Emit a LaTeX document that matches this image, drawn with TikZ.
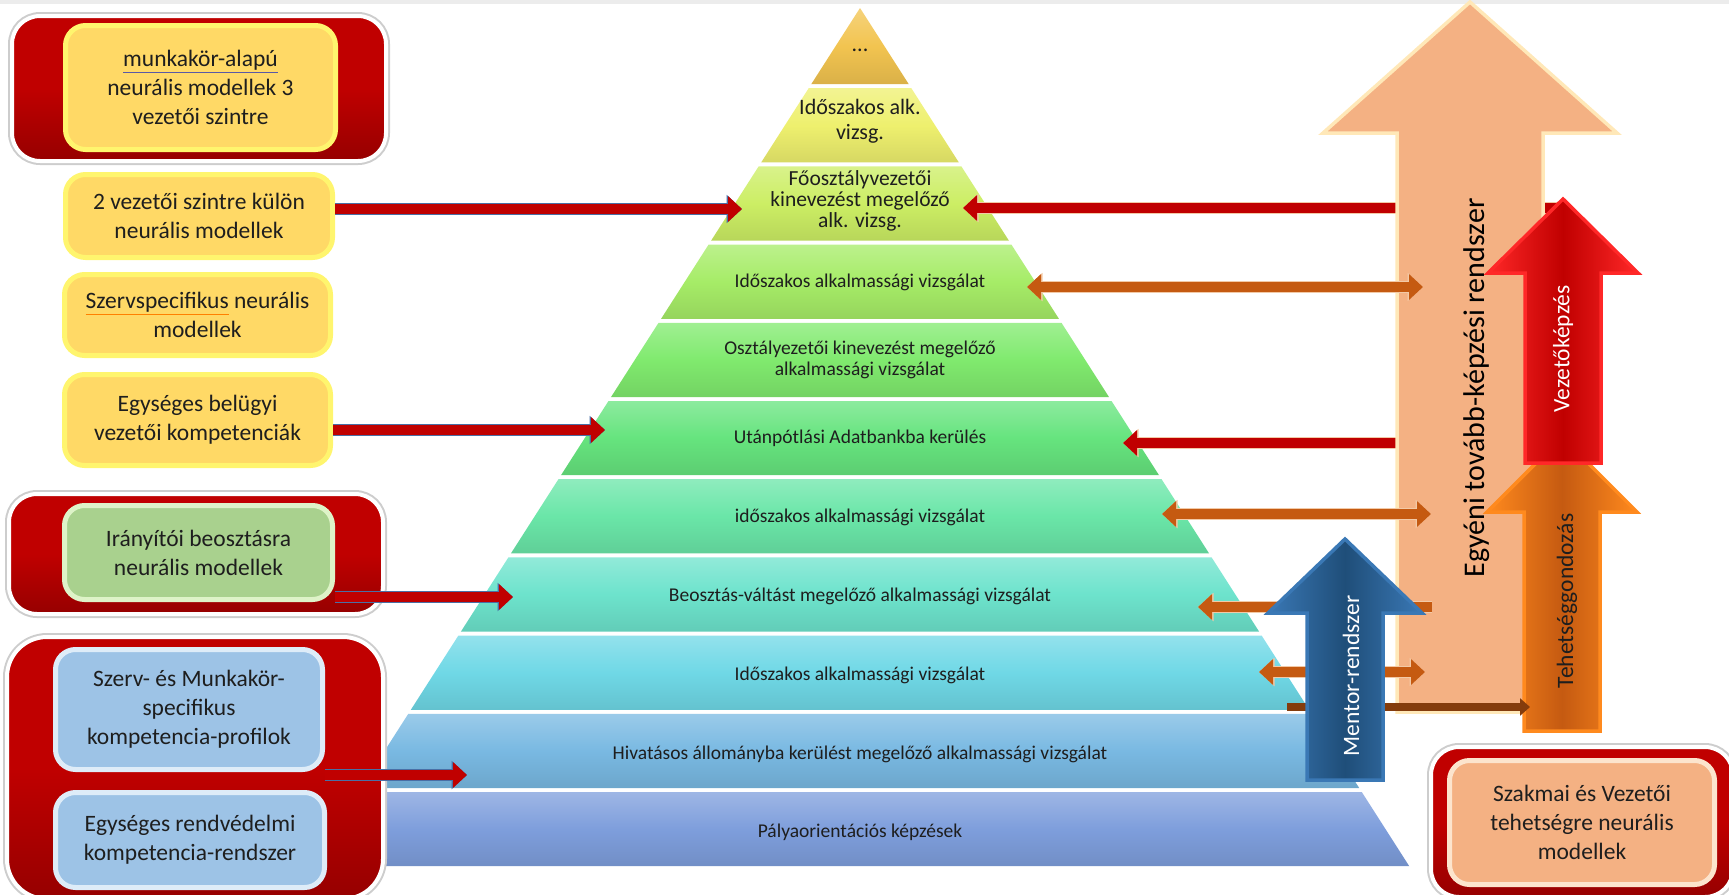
\documentclass[tikz,border=0pt]{standalone}
\usepackage{fontspec}
\setmainfont{Carlito}
\usepackage{xcolor}
\usepackage{tikz}
\usetikzlibrary{positioning, calc, arrows.meta}
\definecolor{ink}{RGB}{30, 30, 30}
\definecolor{topGray}{RGB}{236, 236, 236}
\definecolor{panelRed}{RGB}{192, 0, 0}
\definecolor{panelDark}{RGB}{150, 0, 0}
\definecolor{panelGlow}{RGB}{205, 205, 205}
\definecolor{cardYellow}{RGB}{255, 217, 102}
\definecolor{rimYellow}{RGB}{255, 245, 110}
\definecolor{cardGreen}{RGB}{169, 209, 142}
\definecolor{rimGreen}{RGB}{222, 243, 200}
\definecolor{cardBlue}{RGB}{157, 195, 230}
\definecolor{rimPale}{RGB}{222, 236, 248}
\definecolor{cardPeach}{RGB}{244, 177, 131}
\definecolor{rimPeach}{RGB}{252, 228, 205}
\definecolor{arrowRed}{RGB}{192, 0, 0}
\definecolor{edgeBlue}{RGB}{74, 111, 165}
\definecolor{edgeTan}{RGB}{242, 201, 166}
\definecolor{arrowOrange}{RGB}{197, 90, 17}
\definecolor{arrowBrown}{RGB}{132, 60, 12}
\definecolor{bigPeach}{RGB}{244, 177, 131}
\definecolor{bigPeachRim}{RGB}{255, 232, 184}
\definecolor{vezRim}{RGB}{255, 40, 40}
\definecolor{tehRim}{RGB}{255, 138, 30}
\definecolor{menBlue}{RGB}{31, 78, 121}
\definecolor{menRim}{RGB}{58, 120, 181}
\definecolor{lay1}{RGB}{242, 196, 80}
\definecolor{lay2}{RGB}{238, 240, 110}
\definecolor{lay3}{RGB}{204, 238, 100}
\definecolor{lay4}{RGB}{166, 236, 103}
\definecolor{lay5}{RGB}{128, 234, 110}
\definecolor{lay6}{RGB}{102, 228, 126}
\definecolor{lay7}{RGB}{106, 230, 168}
\definecolor{lay8}{RGB}{109, 227, 204}
\definecolor{lay9}{RGB}{111, 216, 230}
\definecolor{lay10}{RGB}{121, 185, 226}
\definecolor{lay11}{RGB}{126, 158, 220}
\newcommand{\markword}[2]{\textcolor{#1}{\underline{\textcolor{ink}{#2}}}}
\tikzset{
    base/.style={
        font=\fontsize{19.5}{20.5}\selectfont,
        align=center,
        text=ink
    },
    tiertop/.style={
        base,
        font=\fontsize{21.5}{21}\selectfont
    },
    panel/.style={
        rectangle,
        rounded corners=28pt,
        top color=panelRed,
        bottom color=panelDark,
        middle color=panelRed,
        draw=white,
        line width=4pt,
        preaction={draw=panelGlow, line width=8pt}
    },
    card/.style={
        base,
        font=\fontsize{23.5}{29}\selectfont,
        rectangle,
        rounded corners=20pt,
        line width=5pt,
        inner sep=0pt
    },
    cardyellow/.style={card, fill=cardYellow, draw=rimYellow},
    cardgreen/.style={card, fill=cardGreen, draw=rimGreen},
    cardblue/.style={card, fill=cardBlue, draw=rimPale},
    cardpeach/.style={card, fill=cardPeach, draw=rimPeach},
    bighead/.tip={Triangle[length=14pt, width=25pt]},
    rimhead/.tip={Triangle[length=15.5pt, width=27.5pt]},
    redflow/.style={
        line width=10pt,
        draw=arrowRed,
        arrows={-bighead},
        preaction={draw=#1, line width=11.6pt, arrows={-rimhead}}
    },
    redflow/.default=edgeBlue,
    twoway/.style={
        line width=10pt,
        draw=arrowOrange,
        arrows={bighead-bighead},
        preaction={draw=edgeTan, line width=11.6pt, arrows={rimhead-rimhead}}
    },
    oneway/.style={
        line width=10pt,
        draw=arrowOrange,
        arrows={-bighead},
        preaction={draw=edgeTan, line width=11.6pt, arrows={-rimhead}}
    },
    thinflow/.style={
        line width=8pt,
        draw=arrowBrown,
        arrows={-Triangle[length=10pt, width=17pt]}
    },
    blockarrow/.style={
        line width=3.5pt,
        line join=miter
    },
    uptext/.style={
        font=\fontsize{23.5}{26}\selectfont,
        rotate=90
    }
}

\begin{document}
\begin{tikzpicture}[x=1pt, y=-1pt]
  \useasboundingbox (0,0) rectangle (1729,894);
  \fill[topGray] (0,0) rectangle (1729,4);

  % Pyramid
  \foreach \col [count=\k from 0] in {lay1,lay2,lay3,lay4,lay5,lay6,lay7,lay8,lay9,lay10,lay11}{
    \pgfmathsetmacro\yt{8+\k*78.2+(\k>0)*2}
    \pgfmathsetmacro\yb{8+(\k+1)*78.2-2}
    \pgfmathsetmacro\wt{(\yt-8)*0.64}
    \pgfmathsetmacro\wb{(\yb-8)*0.64}
    \shade[top color=\col!75!white, bottom color=\col!90!black, middle color=\col]
      (860-\wt,\yt) -- (860+\wt,\yt) -- (860+\wb,\yb) -- (860-\wb,\yb) -- cycle;
  }
  \node[tiertop, font=\fontsize{22}{25}\selectfont] (l1) at (860,50) {...};
  \node[tiertop, font=\fontsize{22}{25}\selectfont] (l2) at (860,121) {Időszakos alk.\\vizsg.};
  \node[tiertop] (l3) at (860,201) {Főosztályvezetői\\kinevezést megelőző\\alk. vizsg.};
  \node[base] (l4) at (860,282) {Időszakos alkalmassági vizsgálat};
  \node[base] (l5) at (860,360) {Osztályezetői kinevezést megelőző\\alkalmassági vizsgálat};
  \node[base] (l6) at (860,438) {Utánpótlási Adatbankba kerülés};
  \node[base] (l7) at (860,517) {időszakos alkalmassági vizsgálat};
  \node[base] (l8) at (860,596) {Beosztás-váltást megelőző alkalmassági vizsgálat};
  \node[base] (l9) at (860,675) {Időszakos alkalmassági vizsgálat};
  \node[base] (l10) at (860,754) {Hivatásos állományba kerülést megelőző alkalmassági vizsgálat};
  \node[base] (l11) at (860,832) {Pályaorientációs képzések};

  % Left panels
  \node[panel, minimum width=374pt, minimum height=145pt] (p1) at (199,88.5) {};
  \node[panel, minimum width=374pt, minimum height=120pt] (p2) at (196,554) {};
  \node[panel, rounded corners=40pt, minimum width=376pt, minimum height=262pt] (p3) at (195,768) {};

  \node[cardyellow, minimum width=270pt, minimum height=124pt] (c1) at (200.5,87.5)
    {\markword{gray!70!blue}{munkakör-alapú}\\neurális modellek 3\\vezetői szintre};
  \node[cardyellow, minimum width=267pt, minimum height=83pt] (c2) at (199,216)
    {2 vezetői szintre külön\\neurális modellek};
  \node[cardyellow, minimum width=266pt, minimum height=81pt] (c3) at (197.5,315)
    {\markword{orange}{Szervspecifikus} neurális\\modellek};
  \node[cardyellow, minimum width=266pt, minimum height=91pt] (c4) at (197.5,420)
    {Egységes belügyi\\vezetői kompetenciák};
  \node[cardgreen, minimum width=268pt, minimum height=94pt] (c5) at (198.5,552.5)
    {Irányítói beosztásra\\neurális modellek};
  \node[cardblue, minimum width=267pt, minimum height=120pt] (c6) at (189,709.5)
    {Szerv- és Munkakör-\\specifikus\\kompetencia-profilok};
  \node[cardblue, minimum width=269pt, minimum height=95pt] (c7) at (190,840)
    {Egységes rendvédelmi\\kompetencia-rendszer};

  % Arrow ends
  \coordinate (t3w) at (742,209);
  \coordinate (t6w) at (605,430);
  \coordinate (t8w) at (513,597);
  \coordinate (t10w) at (467,775);
  \coordinate (t3e) at (963,208);
  \coordinate (t4e) at (1027,287);
  \coordinate (t6e) at (1123,443);
  \coordinate (t7e) at (1162,514);
  \coordinate (t8e) at (1198,607);
  \coordinate (t9e) at (1259,672);
  \coordinate (t10e) at (1287,707);
  \coordinate (g4) at (1423,287);
  \coordinate (g7) at (1431,514);
  \coordinate (g8) at (1432,607);
  \coordinate (g9) at (1425,672);
  \coordinate (h10) at (1530,707);
  \coordinate (vezaxis) at (1558,0);

  % From the leadership training
  \draw[redflow=edgeTan] (vezaxis |- t3e) -- (t3e);
  \draw[redflow=edgeTan] (vezaxis |- t6e) -- (t6e);

  % Individual training
  \filldraw[blockarrow, fill=bigPeach, draw=bigPeachRim]
    (1397,712) -- (1397,133) -- (1323,133) -- (1470,2) -- (1617,133) -- (1543,133) -- (1543,712) -- cycle;
  \node[uptext, font=\fontsize{30}{32}\selectfont, text=black] (egy) at (1477,388) {Egyéni tovább-képzési rendszer};

  % Talent care
  \shadedraw[blockarrow, left color=tehRim, right color=tehRim, middle color=arrowOrange, draw=tehRim]
    (1524,731) -- (1524,512) -- (1487,512) -- (1562,437) -- (1637,512) -- (1600,512) -- (1600,731) -- cycle;
  \node[uptext, text=ink] (teh) at (1567,601) {Tehetséggondozás};

  % Leadership training
  \shadedraw[blockarrow, left color=vezRim, right color=vezRim, middle color=arrowRed, draw=vezRim]
    (1525,463) -- (1525,273) -- (1488,273) -- (1563,199) -- (1638,273) -- (1601,273) -- (1601,463) -- cycle;
  \node[uptext, text=white] (vez) at (1563,349) {Vezetőképzés};

  % Periodic checks
  \draw[twoway] (t4e) -- (g4);
  \draw[twoway] (t7e) -- (g7);
  \draw[oneway] (g8) -- (t8e);
  \draw[twoway] (t9e) -- (g9);
  \draw[thinflow] (t10e) -- (h10);

  % From the models
  \draw[redflow] (c2.east |- t3w) -- (t3w);
  \draw[redflow] (c4.east |- t6w) -- (t6w);
  \draw[redflow] (c5.east |- t8w) -- (t8w);
  \draw[redflow] (c6.east |- t10w) -- (t10w);

  % Mentor
  \shadedraw[blockarrow, left color=menRim, right color=menRim, middle color=menBlue, draw=menRim]
    (1307,780) -- (1307,613) -- (1268,613) -- (1345,539) -- (1422,613) -- (1383,613) -- (1383,780) -- cycle;
  \node[uptext, text=white] (men) at (1351,676) {Mentor-rendszer};

  % Talent models
  \node[panel, minimum width=302pt, minimum height=150pt] (p4) at (1582,822) {};
  \node[cardpeach, minimum width=265pt, minimum height=124pt] (c8) at (1582,822.5)
    {Szakmai és Vezetői\\tehetségre neurális\\modellek};
\end{tikzpicture}
\end{document}
